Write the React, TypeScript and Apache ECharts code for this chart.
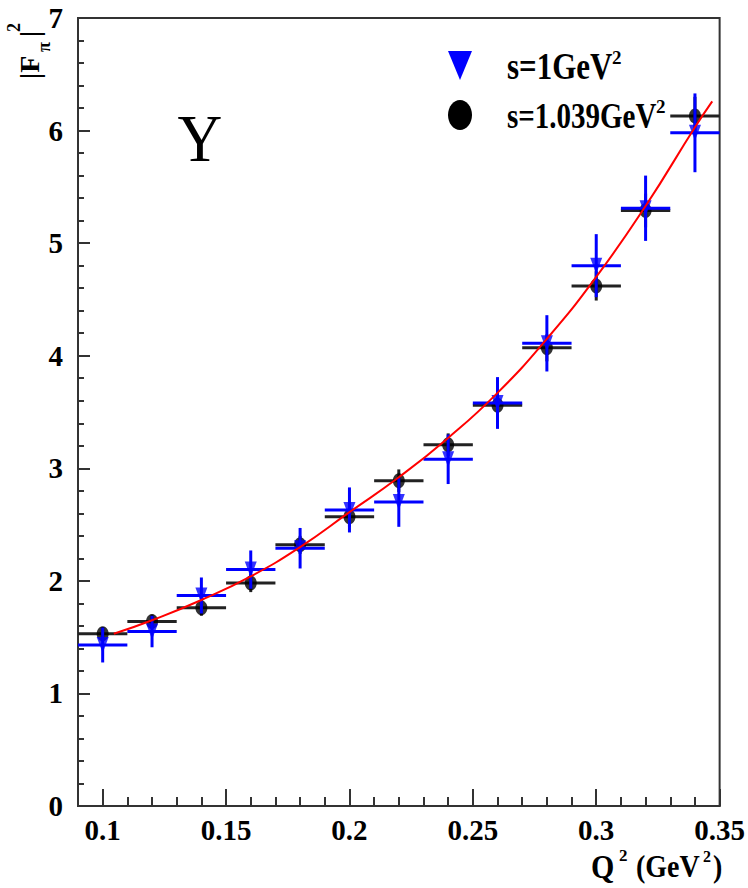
import React, { useEffect, useRef } from "react";
import * as echarts from "echarts";

// Q^2 bin centres (GeV^2)
const q2Values = [0.1, 0.12, 0.14, 0.16, 0.18, 0.2, 0.22, 0.24, 0.26, 0.28, 0.3, 0.32, 0.34];
const binHalfWidths = [0.01, 0.01, 0.01, 0.01, 0.01, 0.01, 0.01, 0.01, 0.01, 0.01, 0.01, 0.01, 0.01];

// s = 1.039 GeV^2 (black circles)
const blackValues = [1.53, 1.64, 1.76, 1.98, 2.32, 2.57, 2.89, 3.21, 3.56, 4.07, 4.62, 5.29, 6.13];
const blackErrors = [0.06, 0.06, 0.07, 0.08, 0.08, 0.09, 0.1, 0.1, 0.11, 0.12, 0.13, 0.15, 0.17];

// s = 1 GeV^2 (blue triangles)
const blueValues = [1.43, 1.55, 1.87, 2.1, 2.29, 2.63, 2.7, 3.08, 3.58, 4.11, 4.8, 5.31, 5.98];
const blueErrors = [0.155, 0.14, 0.16, 0.17, 0.18, 0.2, 0.22, 0.22, 0.23, 0.25, 0.28, 0.29, 0.35];

// fit curve (red)
const fitX = [0.1045, 0.12, 0.14, 0.16, 0.18, 0.2, 0.22, 0.24, 0.26, 0.28, 0.3, 0.32, 0.34, 0.347];
const fitY = [1.53, 1.65, 1.83, 2.04, 2.3, 2.61, 2.92, 3.27, 3.67, 4.15, 4.7, 5.33, 6.03, 6.26];

// axis ticks
const xMajorTicks = [0.1, 0.15, 0.2, 0.25, 0.3, 0.35];
const xTickLabels = ["0.1", "0.15", "0.2", "0.25", "0.3", "0.35"];

const SERIF = "'Liberation Serif', 'DejaVu Serif', serif";

function errorBarSeries(name: string, values: number[], errors: number[], color: string, z: number) {
  return {
    name,
    type: "custom",
    z,
    data: q2Values.map((q, i) => [q, values[i], binHalfWidths[i], errors[i]]),
    encode: { x: 0, y: 1 },
    renderItem: (_params: any, api: any) => {
      const x = api.value(0);
      const y = api.value(1);
      const ex = api.value(2);
      const ey = api.value(3);
      const l = api.coord([x - ex, y]);
      const r = api.coord([x + ex, y]);
      const t = api.coord([x, y + ey]);
      const b = api.coord([x, y - ey]);
      return {
        type: "group",
        children: [
          { type: "line", shape: { x1: l[0], y1: l[1], x2: r[0], y2: r[1] }, style: { stroke: color, lineWidth: 3 } },
          { type: "line", shape: { x1: t[0], y1: t[1], x2: b[0], y2: b[1] }, style: { stroke: color, lineWidth: 3 } },
        ],
      };
    },
  };
}

export default function App() {
  const ref = useRef<HTMLDivElement>(null);
  useEffect(() => {
    if (!ref.current) return;
    const chart = echarts.init(ref.current, null, { renderer: "svg" });
    const axisColor = "#333";
    const option: any = {
      animation: false,
      backgroundColor: "#fff",
      grid: {
        left: 78,
        right: 28,
        top: 18,
        bottom: 82,
        show: true,
        borderColor: axisColor,
        borderWidth: 2,
        backgroundColor: "transparent",
      },
      xAxis: [
        {
          type: "value",
          min: 0.09,
          max: 0.35,
          position: "bottom",
          axisLine: { show: true, onZero: false, lineStyle: { color: axisColor, width: 2 } },
          axisTick: {
            show: true,
            inside: true,
            length: 17,
            customValues: xMajorTicks,
            lineStyle: { color: axisColor, width: 2 },
          },
          axisLabel: {
            customValues: xMajorTicks,
            formatter: (v: number) => {
              const i = xMajorTicks.findIndex((t) => Math.abs(t - v) < 1e-6);
              return i >= 0 ? xTickLabels[i] : "";
            },
            fontFamily: SERIF,
            fontWeight: "bold",
            fontSize: 29,
            lineHeight: 29,
            color: "#000",
            margin: 9,
          },
          splitLine: { show: false },
        },
        {
          type: "value",
          min: 0.09,
          max: 0.35,
          interval: 0.01,
          position: "bottom",
          axisLine: { show: false },
          axisTick: { show: true, inside: true, length: 9, lineStyle: { color: axisColor, width: 2 } },
          axisLabel: { show: false },
          splitLine: { show: false },
        },
      ],
      yAxis: {
        type: "value",
        min: 0,
        max: 7,
        interval: 1,
        axisLine: { show: true, lineStyle: { color: axisColor, width: 2 } },
        axisTick: { show: true, inside: true, length: 12, lineStyle: { color: axisColor, width: 2 } },
        minorTick: { show: true, splitNumber: 5, length: 6, lineStyle: { color: axisColor, width: 2 } },
        axisLabel: {
          fontFamily: SERIF,
          fontWeight: "bold",
          fontSize: 29,
          color: "#000",
          margin: 15,
        },
        splitLine: { show: false },
        minorSplitLine: { show: false },
      },
      series: [
        errorBarSeries("s=1.039GeV² errors", blackValues, blackErrors, "#222", 2),
        {
          name: "s=1.039GeV²",
          type: "scatter",
          z: 3,
          symbol: "circle",
          symbolSize: [12, 15],
          itemStyle: { color: "#000" },
          data: q2Values.map((q, i) => [q, blackValues[i]]),
        },
        errorBarSeries("s=1GeV² errors", blueValues, blueErrors, "#0000ff", 4),
        {
          name: "s=1GeV²",
          type: "scatter",
          z: 5,
          symbol: "triangle",
          symbolRotate: 180,
          symbolSize: [12, 16],
          itemStyle: { color: "#0000ff" },
          data: q2Values.map((q, i) => [q, blueValues[i]]),
        },
        {
          name: "fit",
          type: "line",
          z: 6,
          smooth: true,
          showSymbol: false,
          lineStyle: { color: "#ff0000", width: 2 },
          data: fitX.map((x, i) => [x, fitY[i]]),
        },
      ],
      graphic: [
        // legend
        { type: "polygon", shape: { points: [[448, 51], [472, 51], [460, 80]] }, style: { fill: "#0000ff" } },
        { type: "ellipse", shape: { cx: 460, cy: 115, rx: 12, ry: 15 }, style: { fill: "#000" } },
        {
          type: "text", x: 507, y: 66, scaleY: 1.2,
          style: { text: "s=1GeV", font: `bold 31px ${SERIF}`, fill: "#000", textAlign: "left", textVerticalAlign: "middle" },
        },
        {
          type: "text", x: 612, y: 57,
          style: { text: "2", font: `bold 19px ${SERIF}`, fill: "#000", textAlign: "left", textVerticalAlign: "middle" },
        },
        {
          type: "text", x: 507, y: 116, scaleY: 1.2,
          style: { text: "s=1.039GeV", font: `bold 29px ${SERIF}`, fill: "#000", textAlign: "left", textVerticalAlign: "middle" },
        },
        {
          type: "text", x: 656, y: 106,
          style: { text: "2", font: `bold 19px ${SERIF}`, fill: "#000", textAlign: "left", textVerticalAlign: "middle" },
        },
        // big Y label
        {
          type: "text", x: 200, y: 138, scaleY: 1.1,
          style: { text: "Y", font: `62px ${SERIF}`, fill: "#000", textAlign: "center", textVerticalAlign: "middle" },
        },
        // y axis title |F_pi|^2 (rotated)
        {
          type: "text", x: 29, y: 79, rotation: Math.PI / 2,
          style: { text: "|F", font: `bold 28px ${SERIF}`, fill: "#000", textAlign: "left", textVerticalAlign: "middle" },
        },
        {
          type: "text", x: 44, y: 52, rotation: Math.PI / 2,
          style: { text: "π", font: `bold 18px ${SERIF}`, fill: "#000", textAlign: "left", textVerticalAlign: "middle" },
        },
        {
          type: "text", x: 29, y: 37, rotation: Math.PI / 2,
          style: { text: "|", font: `bold 28px ${SERIF}`, fill: "#000", textAlign: "left", textVerticalAlign: "middle" },
        },
        {
          type: "text", x: 14, y: 32, rotation: Math.PI / 2,
          style: { text: "2", font: `bold 18px ${SERIF}`, fill: "#000", textAlign: "left", textVerticalAlign: "middle" },
        },
        // x axis title Q^2 (GeV^2)
        {
          type: "text", x: 591, y: 866, scaleY: 1.15,
          style: { text: "Q", font: `bold 30px ${SERIF}`, fill: "#000", textAlign: "left", textVerticalAlign: "middle" },
        },
        {
          type: "text", x: 619, y: 855,
          style: { text: "2", font: `bold 17px ${SERIF}`, fill: "#000", textAlign: "left", textVerticalAlign: "middle" },
        },
        {
          type: "text", x: 636, y: 866, scaleY: 1.15,
          style: { text: "(GeV", font: `bold 28px ${SERIF}`, fill: "#000", textAlign: "left", textVerticalAlign: "middle" },
        },
        {
          type: "text", x: 703, y: 856,
          style: { text: "2", font: `bold 16px ${SERIF}`, fill: "#000", textAlign: "left", textVerticalAlign: "middle" },
        },
        {
          type: "text", x: 713, y: 866, scaleY: 1.15,
          style: { text: ")", font: `bold 28px ${SERIF}`, fill: "#000", textAlign: "left", textVerticalAlign: "middle" },
        },
      ],
    };
    chart.setOption(option);
    return () => chart.dispose();
  }, []);
  return (
    <div
      ref={ref}
      style={{ position: "absolute", left: 0, top: 0, width: 748, height: 888, background: "#fff" }}
    />
  );
}
